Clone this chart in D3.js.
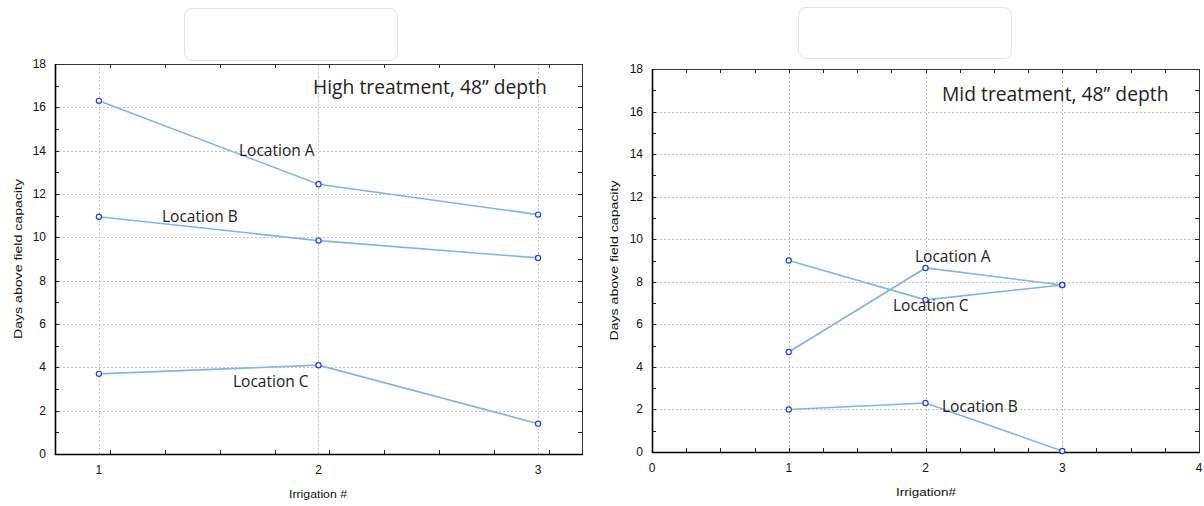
<!DOCTYPE html>
<html>
<head>
<meta charset="utf-8">
<script src="https://cdn.jsdelivr.net/npm/d3@7"></script>
<style>
  html, body { margin: 0; padding: 0; background: #fff; }
  svg { display: block; }
  .tick-label { font-family: "Liberation Sans", Arial, sans-serif; font-size: 12px; fill: #111; }
  .axis-title { font-family: "Liberation Sans", Arial, sans-serif; font-size: 10px; fill: #111; }
  .note { font-family: "Open Sans", sans-serif; font-size: 15.5px; fill: #222; }
  .title { font-family: "Open Sans", sans-serif; font-size: 19.3px; fill: #222; }
</style>
</head>
<body>
<svg id="chart" width="1204" height="506"></svg>
<script>
// Irrigation events
const irrigations = [1, 2, 3];

// High treatment, 48" depth — days above field capacity
const highLocA = [16.3, 12.45, 11.05];
const highLocB = [10.95, 9.85, 9.05];
const highLocC = [3.7, 4.1, 1.4];

// Mid treatment, 48" depth — days above field capacity
const midLocA = [4.7, 8.65, 7.85];
const midLocB = [2.0, 2.3, 0.05];
const midLocC = [9.0, 7.15, 7.85];

// Axis ticks
const yTicks = [0, 2, 4, 6, 8, 10, 12, 14, 16, 18];
const highXTicks = [1, 2, 3];
const midXTicks = [0, 1, 2, 3, 4];

const svg = d3.select("#chart");

function panel(cfg) {
  const g = svg.append("g");
  const x = d3.scaleLinear().domain(cfg.xDomain).range([cfg.left, cfg.right]);
  const y = d3.scaleLinear().domain([0, 18]).range([cfg.bottom, cfg.top]);

  // placeholder legend box above the plot
  g.append("rect")
    .attr("x", cfg.box[0]).attr("y", cfg.box[1])
    .attr("width", cfg.box[2]).attr("height", cfg.box[3])
    .attr("rx", 8).attr("ry", 8)
    .attr("fill", "#fff").attr("stroke", "#e2e2e2").attr("stroke-width", 1);

  // dotted grid
  const gridY = yTicks.filter(v => v > 0 && v < 18);
  g.selectAll(".gy").data(gridY).enter().append("line")
    .attr("x1", cfg.left).attr("x2", cfg.right)
    .attr("y1", d => Math.round(y(d)) + 0.5).attr("y2", d => Math.round(y(d)) + 0.5)
    .attr("stroke", "#c4c4c4").attr("stroke-dasharray", "2,2");
  const gridX = cfg.xTicks.filter(v => v > cfg.xDomain[0] && v < cfg.xDomain[1]);
  g.selectAll(".gx").data(gridX).enter().append("line")
    .attr("y1", cfg.top).attr("y2", cfg.bottom)
    .attr("x1", d => Math.round(x(d)) + 0.5).attr("x2", d => Math.round(x(d)) + 0.5)
    .attr("stroke", "#c4c4c4").attr("stroke-dasharray", "2,2");

  // minor ticks (inside the frame, all four sides)
  const minorX = d3.range(cfg.xDomain[0], cfg.xDomain[1] + 1e-9, 0.25)
    .filter(v => v > cfg.xDomain[0] + 1e-6 && v < cfg.xDomain[1] - 1e-6);
  const minorY = d3.range(1, 18, 1);
  const tk = g.append("g").attr("stroke", "#222").attr("stroke-width", 1);
  minorX.forEach(v => {
    const px = Math.round(x(v)) + 0.5;
    tk.append("line").attr("x1", px).attr("x2", px).attr("y1", cfg.bottom).attr("y2", cfg.bottom - 4);
    tk.append("line").attr("x1", px).attr("x2", px).attr("y1", cfg.top).attr("y2", cfg.top + 4);
  });
  minorY.forEach(v => {
    const py = Math.round(y(v)) + 0.5;
    tk.append("line").attr("x1", cfg.left).attr("x2", cfg.left + 4).attr("y1", py).attr("y2", py);
    tk.append("line").attr("x1", cfg.right).attr("x2", cfg.right - 4).attr("y1", py).attr("y2", py);
  });

  // frame
  g.append("rect")
    .attr("x", cfg.left + 0.5).attr("y", cfg.top + 0.5)
    .attr("width", cfg.right - cfg.left).attr("height", cfg.bottom - cfg.top)
    .attr("fill", "none").attr("stroke", "#333").attr("stroke-width", 1);
  g.append("line").attr("x1", cfg.left + 0.5).attr("x2", cfg.left + 0.5)
    .attr("y1", cfg.top).attr("y2", cfg.bottom + 1).attr("stroke", "#000").attr("stroke-width", 1.6);
  g.append("line").attr("x1", cfg.left).attr("x2", cfg.right + 1)
    .attr("y1", cfg.bottom + 0.5).attr("y2", cfg.bottom + 0.5).attr("stroke", "#000").attr("stroke-width", 1.6);

  // tick labels
  g.selectAll(".yl").data(yTicks).enter().append("text")
    .attr("class", "tick-label")
    .attr("x", cfg.left - 9).attr("y", d => y(d) + 4)
    .attr("text-anchor", "end").text(d => d);
  g.selectAll(".xl").data(cfg.xTicks).enter().append("text")
    .attr("class", "tick-label")
    .attr("x", d => x(d)).attr("y", cfg.bottom + 20)
    .attr("text-anchor", "middle").text(d => d);

  // axis titles
  g.append("text").attr("class", "axis-title")
    .attr("transform", `translate(${cfg.yTitleX},${(cfg.top + cfg.bottom) / 2}) rotate(-90)`)
    .attr("text-anchor", "middle")
    .attr("textLength", 160).attr("lengthAdjust", "spacingAndGlyphs")
    .text("Days above field capacity");
  g.append("text").attr("class", "axis-title")
    .attr("x", cfg.xTitleX).attr("y", cfg.xTitleY)
    .attr("text-anchor", "middle")
    .attr("textLength", cfg.xTitleLen).attr("lengthAdjust", "spacingAndGlyphs")
    .text(cfg.xTitle);

  // series
  const line = d3.line().x((d, i) => x(irrigations[i])).y(d => y(d));
  cfg.series.forEach(s => {
    g.append("path").datum(s.values)
      .attr("d", line).attr("fill", "none")
      .attr("stroke", "#82b4e4").attr("stroke-width", 1.6);
  });
  cfg.series.forEach(s => {
    g.selectAll(null).data(s.values).enter().append("circle")
      .attr("cx", (d, i) => x(irrigations[i])).attr("cy", d => y(d))
      .attr("r", 2.6).attr("fill", "#fff")
      .attr("stroke", "#1f3cff").attr("stroke-width", 1.2);
  });

  // location labels
  cfg.series.forEach(s => {
    g.append("text").attr("class", "note")
      .attr("x", s.lx).attr("y", s.ly).text(s.name);
  });

  // panel title
  g.append("text").attr("class", "title")
    .attr("x", cfg.titleX).attr("y", cfg.titleY).text(cfg.title);
}

panel({
  xDomain: [0.8, 3.2], xTicks: highXTicks,
  left: 55, right: 582, top: 64, bottom: 454,
  box: [184.5, 8.5, 213, 52],
  yTitleX: 22, xTitle: "Irrigation #", xTitleX: 318, xTitleY: 498, xTitleLen: 58,
  title: "High treatment, 48\u201D depth", titleX: 313, titleY: 94,
  series: [
    { name: "Location A", values: highLocA, lx: 239, ly: 156 },
    { name: "Location B", values: highLocB, lx: 162, ly: 222 },
    { name: "Location C", values: highLocC, lx: 233, ly: 387 }
  ]
});

panel({
  xDomain: [0, 4], xTicks: midXTicks,
  left: 652, right: 1199, top: 69, bottom: 452,
  box: [798.5, 7.5, 213, 51],
  yTitleX: 618, xTitle: "Irrigation#", xTitleX: 926, xTitleY: 496, xTitleLen: 60,
  title: "Mid treatment, 48\u201D depth", titleX: 942, titleY: 101,
  series: [
    { name: "Location A", values: midLocA, lx: 915, ly: 262 },
    { name: "Location B", values: midLocB, lx: 942, ly: 412 },
    { name: "Location C", values: midLocC, lx: 893, ly: 311 }
  ]
});
</script>
</body>
</html>
